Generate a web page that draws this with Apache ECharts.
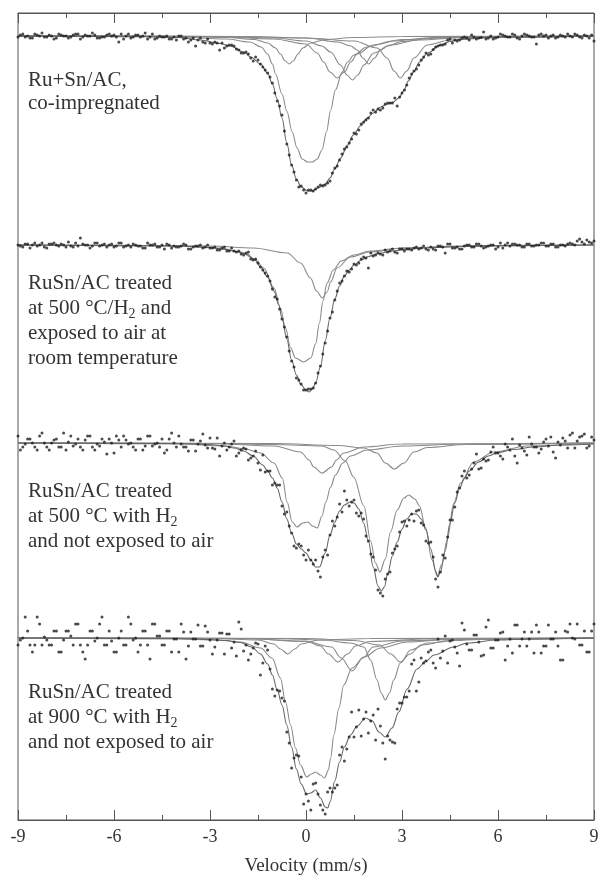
<!DOCTYPE html>
<html>
<head>
<meta charset="utf-8">
<script src="https://cdn.jsdelivr.net/npm/echarts/dist/echarts.min.js"></script>
<style>
  html, body { margin: 0; padding: 0; background: #fff; }
  #chart { width: 599px; height: 878px; }
</style>
</head>
<body>
<div id="chart"></div>
<script>
// channel velocities (mm/s): even channels and the interleaved odd ones
const velocity = [
  -9, -8.85, -8.7, -8.55, -8.4, -8.25, -8.1, -7.95, -7.8, -7.65,
  -7.5, -7.35, -7.2, -7.05, -6.9, -6.75, -6.6, -6.45, -6.3, -6.15,
  -6, -5.85, -5.7, -5.55, -5.4, -5.25, -5.1, -4.95, -4.8, -4.65,
  -4.5, -4.35, -4.2, -4.05, -3.9, -3.75, -3.6, -3.45, -3.3, -3.15,
  -3, -2.85, -2.7, -2.55, -2.4, -2.25, -2.1, -1.95, -1.8, -1.65,
  -1.5, -1.35, -1.2, -1.05, -0.9, -0.75, -0.6, -0.45, -0.3, -0.15,
  0, 0.15, 0.3, 0.45, 0.6, 0.75, 0.9, 1.05, 1.2, 1.35,
  1.5, 1.65, 1.8, 1.95, 2.1, 2.25, 2.4, 2.55, 2.7, 2.85,
  3, 3.15, 3.3, 3.45, 3.6, 3.75, 3.9, 4.05, 4.2, 4.35,
  4.5, 4.65, 4.8, 4.95, 5.1, 5.25, 5.4, 5.55, 5.7, 5.85,
  6, 6.15, 6.3, 6.45, 6.6, 6.75, 6.9, 7.05, 7.2, 7.35,
  7.5, 7.65, 7.8, 7.95, 8.1, 8.25, 8.4, 8.55, 8.7, 8.85,
  9
];
const velocityMid = [
  -8.925, -8.775, -8.625, -8.475, -8.325, -8.175, -8.025, -7.875, -7.725, -7.575,
  -7.425, -7.275, -7.125, -6.975, -6.825, -6.675, -6.525, -6.375, -6.225, -6.075,
  -5.925, -5.775, -5.625, -5.475, -5.325, -5.175, -5.025, -4.875, -4.725, -4.575,
  -4.425, -4.275, -4.125, -3.975, -3.825, -3.675, -3.525, -3.375, -3.225, -3.075,
  -2.925, -2.775, -2.625, -2.475, -2.325, -2.175, -2.025, -1.875, -1.725, -1.575,
  -1.425, -1.275, -1.125, -0.975, -0.825, -0.675, -0.525, -0.375, -0.225, -0.075,
  0.075, 0.225, 0.375, 0.525, 0.675, 0.825, 0.975, 1.125, 1.275, 1.425,
  1.575, 1.725, 1.875, 2.025, 2.175, 2.325, 2.475, 2.625, 2.775, 2.925,
  3.075, 3.225, 3.375, 3.525, 3.675, 3.825, 3.975, 4.125, 4.275, 4.425,
  4.575, 4.725, 4.875, 5.025, 5.175, 5.325, 5.475, 5.625, 5.775, 5.925,
  6.075, 6.225, 6.375, 6.525, 6.675, 6.825, 6.975, 7.125, 7.275, 7.425,
  7.575, 7.725, 7.875, 8.025, 8.175, 8.325, 8.475, 8.625, 8.775, 8.925
];

// measured absorption (arb. units), one value per channel
const dots1 = [
  0.1, -0.2, 0, 0.2, -0.1, -0.3, 0.1, 0, 0.2, -0.1,
  0, 0.1, -0.2, 0.3, -0.1, 0, -0.1, 0.2, 0.1, -0.2,
  -0.1, 0.6, 0.3, -0.2, 0.1, -0.1, 0, 0.3, -0.2, 0.2,
  0.1, 0, 0.3, 0.4, 0, 0.2, 0.4, 1.0, 0.2, 0.7,
  0.7, 0.6, 1.4, 1.2, 0.9, 1.0, 1.4, 1.7, 1.8, 2.5,
  2.4, 3.1, 3.7, 4.7, 6.5, 7.9, 10.8, 12.9, 14.4, 15.0,
  15.7, 15.4, 15.3, 14.9, 14.9, 14.5, 13.2, 12.4, 11.3, 10.7,
  9.7, 9.4, 8.6, 8.2, 7.4, 7.3, 7.2, 6.7, 6.7, 7.0,
  5.7, 4.9, 3.8, 3.3, 2.4, 1.7, 1.8, 1.1, 0.9, 0.8,
  0.3, 0.4, 0.4, 0.1, 0.4, 0.1, 0.2, -0.4, 0.2, 0.3,
  0.1, -0.1, 0.1, -0.2, 0.2, 0, -0.1, 0.1, 0.8, -0.2,
  -0.1, 0, 0.2, -0.1, 0.1, 0, -0.2, 0.1, -0.1, 0.2,
  0.5
];
const dots1Mid = [
  -0.1, 0.1, 0.2, -0.2, 0, 0.1, -0.1, 0.3, -0.2, 0,
  0.2, -0.1, -0.2, 0.1, 0, -0.3, 0.2, 0.1, -0.1, 0,
  0.1, -0.2, 0, 0.2, -0.1, 0.1, -0.3, 0.1, 0.3, 0,
  0.1, 0.3, 0.1, 0, 0.3, 0.6, 0.2, 0.4, 0.6, 0.3,
  0.8, 0.7, 0.7, 1.0, 0.9, 1.3, 1.7, 1.6, 2.2, 2.1,
  2.8, 3.4, 4.1, 5.7, 7.0, 9.5, 11.9, 13.6, 15.1, 15.4,
  15.4, 15.5, 15.1, 15.0, 14.7, 13.7, 13.0, 11.8, 11.1, 10.3,
  9.8, 8.8, 8.4, 7.7, 7.6, 7.4, 6.8, 6.7, 6.2, 6.1,
  5.4, 4.2, 3.5, 2.9, 2.1, 1.9, 1.35, 1.0, 0.9, 0.4,
  0.7, 0.5, 0.2, 0.2, -0.1, 0.3, 0.15, 0.3, 0, 0.2,
  -0.2, 0, 0.1, -0.1, 0.3, -0.2, 0, 0.1, -0.1, 0,
  0.2, -0.1, 0.1, 0, -0.2, 0.1, -0.1, 0.2, 0, -0.1
];
const dots2 = [
  0, 0.2, -0.1, 0, 0.1, -0.2, 0.3, -0.1, 0, -0.1,
  0.2, 0.1, -0.2, -0.7, 0, 0.3, -0.2, 0.1, -0.1, 0,
  0.2, -0.2, 0.2, 0, -0.1, 0.1, 0.3, -0.2, 0, 0.2,
  0, -0.1, 0.3, 0.2, 0.1, 0, 0.4, 0.1, 0, 0.2,
  0.3, 0.2, 0.5, 0.2, 0.6, 0.6, 0.6, 1.0, 0.7, 1.5,
  1.8, 2.5, 3.1, 4.4, 5.4, 7.4, 9.2, 11.6, 13.3, 13.9,
  14.5, 14.4, 13.8, 12.1, 9.8, 7.3, 5.5, 3.8, 3.1, 2.7,
  1.9, 1.8, 1.2, 2.3, 1.1, 0.8, 1.0, 0.7, 0.4, 0.8,
  0.4, 0.4, 0.5, 0.2, 0.3, 0.4, 0.2, 0.5, 0.1, 0.8,
  -0.1, 0.3, 0.4, 0.1, 0, 0.2, -0.1, 0.3, 0.1, 0,
  0.2, 0.3, -0.2, -0.1, 0, 0.2, -0.1, 0.1, 0, -0.2,
  0.1, -0.1, 0.2, 0, 0.1, -0.2, 0, -0.6, -0.1, -0.3,
  -0.4
];
const dots2Mid = [
  0.1, -0.1, 0.3, -0.2, 0, 0.2, -0.1, -0.2, 0.1, 0,
  -0.3, 0.2, 0.1, -0.1, 0, 0.1, -0.2, 0, 0.2, -0.1,
  0.1, -0.2, 0.1, 0.2, 0, 0.1, 0.3, 0, -0.1, 0.2,
  0.4, 0, 0.1, 0.2, -0.1, 0.4, 0.2, 0.1, 0.3, 0,
  0.3, 0.5, 0.3, 0.6, 0.3, 0.7, 0.9, 0.8, 1.4, 1.4,
  2.2, 2.8, 3.6, 5.2, 6.4, 8.2, 10.6, 12.2, 13.5, 14.5,
  14.4, 14.3, 12.8, 10.9, 8.6, 6.7, 4.6, 3.6, 2.6, 2.4,
  2.0, 1.4, 1.3, 0.8, 1.0, 0.9, 0.5, 0.6, 0.7, 0.4,
  0.6, 0.4, 0.3, 0.4, 0.1, 0.5, 0.4, 0.1, 0.2, -0.1,
  0.3, 0.2, 0.4, 0, 0.2, -0.1, 0.1, 0.2, 0, 0.4,
  -0.2, 0, 0.1, -0.1, 0, 0.2, -0.1, 0.1, 0, -0.2,
  0.1, -0.1, 0.2, 0, -0.1, -0.1, -0.4, -0.3, -0.5, -0.2
];
const dots3 = [
  -0.7, 0.4, -0.4, 0, 0.7, -1.0, 0.4, 0, -0.4, 0.4,
  0.7, -0.7, 0.1, 0.4, -0.3, -0.7, 0.7, 0.3, -0.1, -0.4,
  1.0, -0.3, -0.7, 0.1, 0.4, -0.4, 0.7, -0.7, 0.3, 0,
  -0.4, 0.7, -1.0, 0.4, 0.1, 0.4, -0.3, 0.8, -0.2, 0.2,
  -0.5, 0.6, 1.3, 0, 0.4, -0.2, 1.0, 0.5, 1.7, 1.3,
  2.0, 1.2, 2.8, 4.2, 4.2, 6.3, 6.9, 9.0, 10.5, 10.3,
  11.7, 11.7, 11.7, 13.4, 10.7, 9.2, 8.3, 6.1, 4.8, 6.3,
  5.7, 7.3, 7.6, 9.8, 11.4, 14.7, 15.3, 13.1, 11.0, 10.3,
  7.9, 8.3, 7.1, 6.8, 8.0, 9.8, 9.9, 13.6, 12.9, 11.5,
  7.7, 6.4, 4.5, 2.8, 3.2, 2.0, 2.6, 1.6, 1.7, 0.4,
  1.0, 1.6, 0.4, -0.4, 2.0, 0.5, 1.2, 0.1, 0.4, 0.6,
  -0.4, -0.6, 1.5, 0.2, -0.2, -0.8, 0.5, -0.6, -0.9, 0.3,
  -0.3
];
const dots3Mid = [
  0.7, 0.1, -0.4, 0.4, -0.7, 0, 0.7, -0.3, 0.4, -1.0,
  -0.1, 0.3, -0.4, 0.7, -0.7, 0.4, 0.1, -0.4, 1.1, 0,
  -0.7, 0.4, -0.3, 0, 0.7, -0.4, 0.3, -0.7, 0.1, 0.4,
  1.0, -0.4, 0, -0.7, 0.4, 0.8, -0.3, 0.1, -0.9, 0.5,
  0.5, -0.5, 0.3, 0.7, 0.1, 1.3, 0.7, 0.6, 1.5, 0.8,
  2.7, 2.9, 2.8, 4.0, 4.2, 7.1, 8.3, 10.3, 10.1, 11.2,
  10.7, 12.1, 12.8, 11.4, 11.2, 7.8, 7.4, 6.9, 5.7, 5.9,
  7.0, 7.0, 9.3, 11.1, 12.7, 15.0, 13.6, 12.9, 10.6, 8.9,
  7.8, 7.7, 7.8, 6.7, 8.2, 10.0, 11.4, 14.4, 11.2, 9.4,
  7.7, 4.9, 3.3, 3.5, 2.6, 1.1, 2.5, 1.8, 0.9, 1.0,
  1.3, 0.1, 0.7, 1.3, 0.2, 0.8, -0.6, 0.4, 1.0, -0.1,
  0.3, 0.9, -0.1, -0.5, 0.5, -1.0, -0.2, -0.7, 0.5, -0.6
];
const dots4 = [
  0.7, 0, -0.7, 1.4, -2.1, 0.7, 0.2, 0.7, -0.7, 1.4,
  -0.7, -0.2, -1.4, 0.7, 2.1, -0.7, 0.3, -1.4, 0.7, -0.7,
  1.4, 0, 0.7, -2.1, 0.2, 1.4, -0.7, 0.7, -1.4, -0.2,
  0.7, -0.7, 1.4, 0.1, -1.4, 2.1, -0.6, 0.1, 0.8, -1.2,
  0.2, 0.9, -0.5, 1.6, -0.4, 0.4, -1.6, 1.3, 2.2, 1.0,
  0.6, 2.5, 1.2, 5.1, 5.2, 6.0, 9.4, 13.0, 11.7, 13.9,
  15.6, 17.2, 14.5, 16.7, 17.6, 15.0, 15.0, 11.7, 12.3, 9.9,
  9.9, 7.2, 8.1, 9.5, 7.7, 7.1, 10.5, 9.8, 10.4, 7.1,
  6.5, 5.9, 2.6, 5.3, 2.0, 2.3, 1.2, 3.0, 2.0, -0.2,
  0.3, 0.9, 2.8, -0.8, 1.2, -0.3, 0.4, 1.7, -1.8, 1.0,
  0.2, -0.6, 0.8, 1.5, -1.3, 0.1, 0.8, -0.6, -1.3, 1.5,
  0.8, 0.1, -0.6, 2.2, -0.7, -1.4, 0.1, 0.7, -0.7, 1.4,
  -1.4
];
const dots4Mid = [
  0.2, -2.1, 0.7, 0.7, -1.4, -0.1, 0.7, -0.7, 1.4, 0.2,
  -0.7, 0.7, -1.4, 1.4, 0.7, -0.7, 0, -2.1, 0.7, 0.3,
  1.4, -0.7, 0.7, -1.4, 0, 0.7, -0.7, 2.1, -1.4, -0.2,
  0.7, -0.7, 0.1, 1.4, -0.6, 0.8, 0.1, -1.3, 0.8, -0.6,
  1.6, 0.2, -0.5, -0.4, 1.0, 1.8, -0.9, 0.7, 1.6, 0.5,
  3.7, 0.8, 3.1, 5.8, 5.3, 6.3, 10.5, 12.0, 11.8, 16.6,
  16.3, 14.6, 15.6, 17.2, 15.4, 15.4, 14.7, 10.9, 11.1, 7.4,
  8.9, 9.8, 7.4, 8.3, 10.2, 8.8, 12.1, 10.2, 10.5, 6.5,
  5.9, 5.3, 2.2, 4.4, 2.5, 1.4, 2.5, 0.1, 1.3, 2.5,
  0.2, 1.5, -1.5, 0.6, 1.2, -0.3, 1.8, -1.1, 1.0, 0.2,
  -0.5, 2.2, 0.1, -1.3, 0.8, -0.6, 0.1, 1.5, -0.6, 0.8,
  -1.3, 0.1, 0.8, 2.2, -0.6, 0, -1.4, 0.7, 1.4, -0.7
];

// fitted subspectra [velocity, absorption]
const fit1A = [[-9,0],[-4,0.05],[-2.5,0.15],[-1.6,0.35],[-1.2,0.7],[-0.95,1.2],[-0.8,1.8],[-0.65,2.5],[-0.52,2.8],[-0.4,2.5],[-0.25,1.8],[-0.1,1.2],[0.15,0.7],[0.6,0.35],[1.5,0.15],[3,0.05],[9,0]];
const fit1B = [[-9,0],[-4,0.1],[-2.5,0.3],[-1.75,0.6],[-1.4,1.1],[-1.2,1.8],[-1.05,2.8],[-0.95,3.8],[-0.75,5.8],[-0.6,7.5],[-0.43,9.6],[-0.28,11.2],[-0.12,12.3],[0.05,12.6],[0.2,12.6],[0.35,12.3],[0.5,11.4],[0.64,9.6],[0.77,7.4],[0.92,5.4],[1.13,3.6],[1.3,2.6],[1.5,1.9],[1.9,1.1],[2.7,0.5],[4,0.15],[9,0]];
const fit1C = [[-9,0],[-3,0.05],[-1,0.3],[0,0.8],[0.35,1.7],[0.55,2.6],[0.75,3.6],[0.97,4.2],[1.2,3.6],[1.4,2.6],[1.6,1.8],[2.1,0.9],[3,0.35],[5,0.1],[9,0]];
const fit1D = [[-9,0],[-3,0.05],[-1,0.2],[0,0.5],[0.5,1.0],[0.77,1.6],[1.08,2.9],[1.28,3.9],[1.45,4.4],[1.62,3.9],[1.81,2.9],[2.12,1.7],[2.64,0.9],[3.5,0.4],[5,0.15],[9,0]];
const fit1E = [[-9,0],[-2,0.05],[0,0.2],[1,0.6],[1.4,1.0],[1.6,1.4],[1.78,2.2],[1.96,2.8],[2.14,2.2],[2.33,1.4],[2.55,1.0],[3,0.55],[4,0.2],[6,0.05],[9,0]];
const fit1F = [[-9,0],[-2,0.05],[0,0.2],[1.5,0.5],[2.22,1.2],[2.54,2.2],[2.75,3.5],[2.95,4.2],[3.15,3.5],[3.37,2.2],[3.79,0.9],[4.5,0.4],[6,0.15],[9,0]];
const fit1Total = [[-9,0],[-5,0.05],[-4,0.15],[-3.3,0.4],[-2.7,0.75],[-2.36,1.0],[-1.95,1.6],[-1.73,2.1],[-1.42,2.8],[-1.2,3.7],[-1.05,4.8],[-0.9,6.3],[-0.75,8.2],[-0.6,10.7],[-0.45,12.9],[-0.3,14.3],[-0.15,15.1],[0.05,15.5],[0.2,15.5],[0.36,15.2],[0.6,14.8],[0.75,14.2],[0.9,13.3],[1.08,12.2],[1.3,10.9],[1.48,9.9],[1.7,9.0],[1.92,8.2],[2.1,7.7],[2.33,7.1],[2.55,6.8],[2.73,6.6],[2.9,6.2],[3.05,5.5],[3.2,4.5],[3.36,3.6],[3.55,2.6],[3.8,1.7],[4.2,0.9],[4.5,0.55],[4.83,0.3],[5.5,0.15],[6.1,0.1],[9,0]];

const fit2A = [[-9,0],[-4,0.1],[-2.67,0.3],[-2.05,0.7],[-1.6,1.4],[-1.32,2.3],[-1.0,4.3],[-0.8,6.3],[-0.64,8.3],[-0.48,10.3],[-0.33,11.3],[-0.07,11.7],[0.15,11.3],[0.3,9.9],[0.42,7.8],[0.53,5.6],[0.66,3.8],[0.85,2.5],[1.1,1.6],[1.5,1.0],[2.0,0.6],[3,0.3],[5,0.1],[9,0]];
const fit2B = [[-9,0],[-3,0.1],[-1.64,0.3],[-0.59,0.8],[-0.17,1.8],[0.14,3.3],[0.33,4.6],[0.51,5.3],[0.66,4.7],[0.77,3.7],[0.97,2.3],[1.39,1.2],[2.0,0.7],[3.05,0.3],[5,0.1],[9,0]];
const fit2Total = [[-9,0],[-5,0.05],[-4,0.1],[-3,0.25],[-2.5,0.45],[-2.2,0.65],[-1.84,0.9],[-1.6,1.5],[-1.42,2.2],[-1.2,3.2],[-1.0,4.6],[-0.85,6.0],[-0.74,7.5],[-0.6,9.4],[-0.45,11.5],[-0.3,13.0],[-0.15,14.0],[0,14.5],[0.1,14.7],[0.2,14.4],[0.3,13.8],[0.45,12.2],[0.6,9.6],[0.75,7.3],[0.9,5.4],[1.05,4.1],[1.2,3.1],[1.35,2.5],[1.5,2.0],[1.7,1.55],[1.95,1.15],[2.25,0.85],[2.7,0.6],[3.2,0.4],[4,0.25],[5,0.12],[6,0.05],[9,0]];

const fit3A = [[-9,0],[-3,0.05],[-1,0.3],[-0.17,0.9],[0.1,1.7],[0.24,2.4],[0.5,3.0],[0.8,2.4],[0.95,1.7],[1.18,1.0],[1.8,0.4],[3,0.1],[9,0]];
const fit3B = [[-9,0],[-1,0.05],[1,0.25],[1.8,0.5],[2.22,1.0],[2.48,2.0],[2.76,2.6],[3.06,2.0],[3.37,0.9],[3.8,0.45],[5,0.15],[9,0]];
const fit3C = [[-9,0],[-4,0.1],[-2.5,0.3],[-1.9,0.6],[-1.42,1.0],[-1.0,2.0],[-0.74,3.5],[-0.59,5.9],[-0.43,7.9],[-0.28,8.4],[-0.1,8.0],[0.06,7.9],[0.2,8.3],[0.35,8.5],[0.5,7.3],[0.62,5.9],[0.77,4.4],[0.92,3.2],[1.15,2.0],[1.39,1.3],[1.91,0.7],[3,0.3],[5,0.1],[9,0]];
const fit3D = [[-9,0],[-3,0.05],[-1,0.15],[0.5,0.3],[0.87,0.7],[1.23,1.8],[1.49,3.4],[1.81,6.3],[2.02,9.8],[2.17,12.0],[2.31,12.9],[2.48,11.6],[2.64,8.9],[2.85,6.7],[3.06,5.5],[3.21,5.2],[3.4,5.6],[3.55,6.3],[3.73,8.4],[3.94,11.7],[4.1,13.3],[4.25,12.1],[4.41,9.7],[4.62,6.0],[4.83,4.0],[5.24,1.9],[5.87,0.9],[6.9,0.3],[9,0]];
const fit3Total = [[-9,0],[-4,0.05],[-3,0.15],[-2.55,0.3],[-2.25,0.5],[-1.95,0.8],[-1.65,1.3],[-1.35,2.2],[-1.2,2.8],[-1.05,3.5],[-0.9,4.5],[-0.75,5.9],[-0.6,7.6],[-0.45,9.0],[-0.3,10.1],[-0.15,10.6],[0,11.0],[0.15,11.7],[0.3,12.4],[0.42,12.4],[0.6,11.0],[0.75,9.2],[0.9,7.9],[1.05,6.8],[1.2,6.2],[1.38,5.9],[1.5,6.0],[1.65,6.6],[1.8,8.0],[1.95,9.8],[2.1,12.4],[2.25,14.3],[2.35,14.8],[2.45,14.4],[2.55,13.1],[2.7,11.3],[2.85,9.9],[3.0,8.6],[3.15,7.6],[3.3,7.1],[3.45,7.1],[3.6,7.6],[3.75,8.7],[3.9,10.6],[4.05,12.8],[4.12,13.4],[4.2,12.9],[4.35,10.8],[4.5,8.0],[4.65,6.0],[4.8,4.5],[4.95,3.5],[5.1,2.8],[5.4,1.9],[5.7,1.3],[6.0,0.95],[6.5,0.65],[7.1,0.4],[8,0.2],[9,0.1]];

const fit4A = [[-9,0],[-3,0.05],[-1.5,0.2],[-1.0,0.6],[-0.8,1.1],[-0.57,1.6],[-0.35,1.1],[-0.15,0.6],[0.4,0.2],[2,0.05],[9,0]];
const fit4B = [[-9,0],[-2,0.05],[0,0.3],[0.45,0.8],[0.7,1.6],[1.0,2.4],[1.3,1.6],[1.55,0.8],[2,0.35],[4,0.08],[9,0]];
const fit4C = [[-9,0],[-2,0.05],[0,0.35],[0.8,0.9],[1.1,2.0],[1.44,3.3],[1.78,2.0],[2.1,0.9],[3,0.3],[5,0.08],[9,0]];
const fit4D = [[-9,0],[0,0.05],[1.5,0.25],[2.3,0.7],[2.65,1.6],[2.95,2.4],[3.25,1.6],[3.6,0.7],[4.5,0.25],[6,0.08],[9,0]];
const fit4E = [[-9,0],[-1,0.05],[0.5,0.2],[1.4,0.5],[1.81,0.9],[2.02,2.2],[2.22,4.2],[2.35,5.5],[2.48,6.2],[2.61,5.5],[2.74,4.2],[2.95,2.5],[3.27,1.2],[3.8,0.5],[5,0.15],[9,0]];
const fit4F = [[-9,0],[-4,0.1],[-2.8,0.2],[-2.05,0.4],[-1.42,1.0],[-1.06,2.0],[-0.8,4.0],[-0.64,6.4],[-0.48,8.7],[-0.33,11.0],[-0.17,12.7],[0.02,13.9],[0.17,13.6],[0.3,13.4],[0.45,13.7],[0.58,14.0],[0.7,13.2],[0.77,12.0],[0.87,9.7],[1.03,7.0],[1.18,4.7],[1.44,3.0],[1.81,1.9],[2.33,1.0],[3.16,0.4],[4.5,0.15],[9,0]];
const fit4Total = [[-9,0],[-4,0.05],[-3,0.15],[-2.5,0.25],[-2.05,0.45],[-1.7,0.9],[-1.42,1.6],[-1.2,2.6],[-1.05,3.7],[-0.9,5.2],[-0.75,6.7],[-0.6,8.7],[-0.45,10.9],[-0.3,13.1],[-0.15,14.6],[0.02,15.6],[0.15,15.5],[0.3,15.2],[0.45,16.0],[0.6,16.9],[0.68,17.0],[0.75,16.4],[0.9,14.3],[1.05,12.4],[1.2,10.9],[1.39,9.7],[1.6,8.8],[1.86,8.0],[2.07,8.3],[2.28,9.4],[2.48,9.9],[2.69,9.0],[2.9,7.4],[3.16,5.1],[3.47,3.1],[3.75,2.3],[4.0,1.7],[4.62,0.9],[5.04,0.5],[6,0.2],[7,0.1],[9,0]];

const sampleLabels = [
  'Ru+Sn/AC,\nco-impregnated',
  'RuSn/AC treated\nat 500 °C/H{s|2} and\nexposed to air at\nroom temperature',
  'RuSn/AC treated\nat 500 °C with H{s|2}\nand not exposed to air',
  'RuSn/AC treated\nat 900 °C with H{s|2}\nand not exposed to air'
];

// vertical stacking of the four spectra
const panelBase = [78.4, 57.5, 37.7, 18.2];
const labelTop = [69, 271, 479, 680];

const panels = [
  { dots: dots1, dotsMid: dots1Mid, fits: [fit1A, fit1B, fit1C, fit1D, fit1E, fit1F], total: fit1Total },
  { dots: dots2, dotsMid: dots2Mid, fits: [fit2A, fit2B], total: fit2Total },
  { dots: dots3, dotsMid: dots3Mid, fits: [fit3A, fit3B, fit3C, fit3D], total: fit3Total },
  { dots: dots4, dotsMid: dots4Mid, fits: [fit4A, fit4B, fit4C, fit4D, fit4E, fit4F], total: fit4Total }
];

const serif = '"Liberation Serif", "DejaVu Serif", serif';

const curve = (pts, base, color) => ({
  type: 'line',
  data: pts.map(([v, a]) => [v, base - a]),
  showSymbol: false,
  smooth: 0.35,
  smoothMonotone: 'x',
  silent: true,
  lineStyle: { color: color, width: 1.1 },
  z: 2
});

const series = [];
panels.forEach((p, k) => {
  const base = panelBase[k];
  p.fits.forEach(f => series.push(curve(f, base, '#8a8a8a')));
  series.push(curve(p.total, base, '#666'));
  const pts = velocity.map((v, i) => [v, base - p.dots[i]])
    .concat(velocityMid.map((v, i) => [v, base - p.dotsMid[i]]));
  series.push({
    type: 'scatter',
    data: pts,
    symbolSize: 3,
    silent: true,
    itemStyle: { color: '#1e1e1e' },
    z: 3
  });
});

const chart = echarts.init(document.getElementById('chart'));

const tickStyle = { lineStyle: { color: '#555', width: 1 } };

chart.setOption({
  animation: false,
  backgroundColor: '#fff',
  grid: {
    left: 18, right: 5, top: 13, bottom: 58,
    outerBoundsMode: 'none', containLabel: false,
    show: true, borderColor: '#555', borderWidth: 1
  },
  xAxis: [
    {
      type: 'value', min: -9, max: 9, interval: 3, position: 'bottom',
      axisLine: { show: true, lineStyle: { color: '#555' } },
      axisTick: { show: true, inside: true, length: 10, ...tickStyle },
      minorTick: { show: true, splitNumber: 2, length: 5, ...tickStyle },
      splitLine: { show: false },
      axisLabel: { color: '#333', fontFamily: serif, fontSize: 18, margin: 8 },
      name: 'Velocity (mm/s)', nameLocation: 'middle', nameGap: 37,
      nameTextStyle: { color: '#333', fontFamily: serif, fontSize: 19 }
    },
    {
      type: 'value', min: -9, max: 9, interval: 3, position: 'top',
      axisLine: { show: true, lineStyle: { color: '#555' } },
      axisTick: { show: true, inside: true, length: 10, ...tickStyle },
      minorTick: { show: true, splitNumber: 2, length: 5, ...tickStyle },
      splitLine: { show: false },
      axisLabel: { show: false }
    }
  ],
  yAxis: {
    type: 'value', min: 0, max: 80.7,
    axisLine: { show: false }, axisTick: { show: false },
    axisLabel: { show: false }, splitLine: { show: false }
  },
  graphic: sampleLabels.map((t, k) => ({
    type: 'text',
    left: 28,
    top: labelTop[k],
    silent: true,
    style: {
      text: t,
      fill: '#333',
      fontFamily: serif,
      fontSize: 21,
      lineHeight: k === 0 ? 23 : 25,
      rich: {
        s: { fontSize: 14, lineHeight: 14, verticalAlign: 'bottom', fontFamily: serif, fill: '#333' }
      }
    }
  })),
  series: series
});
</script>
</body>
</html>
